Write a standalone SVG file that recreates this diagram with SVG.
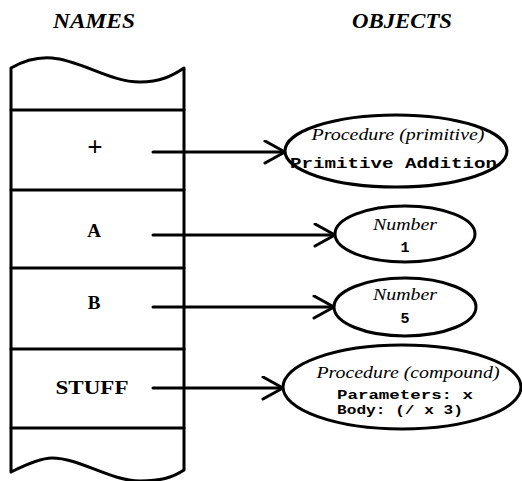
<svg xmlns="http://www.w3.org/2000/svg" width="522" height="481" viewBox="0 0 522 481">
  <style>
    .ln { fill: none; stroke: #000; stroke-width: 3; stroke-linecap: round; stroke-linejoin: round; }
    .hdr { font-family: "Liberation Serif", "DejaVu Serif", serif; font-weight: bold; font-style: italic; font-size: 21px; text-anchor: middle; }
    .name { font-family: "Liberation Serif", "DejaVu Serif", serif; font-weight: bold; font-size: 19px; text-anchor: middle; }
    .kind { font-family: "Liberation Serif", "DejaVu Serif", serif; font-style: italic; font-size: 16px; text-anchor: middle; }
    .val { font-family: "Liberation Mono", "DejaVu Sans Mono", monospace; font-weight: bold; font-size: 15px; }
    .val.sm { font-size: 13px; }
    .obj { fill: #fff; stroke: #000; stroke-width: 3; }
  </style>
  <defs>
    <marker id="arrow" markerUnits="userSpaceOnUse" markerWidth="26" markerHeight="28" refX="22" refY="12" orient="auto">
      <path d="M2,1 L22,12 L2,23" fill="none" stroke="#000" stroke-width="3" stroke-linecap="round" stroke-linejoin="round"/>
    </marker>
  </defs>
  <rect width="522" height="481" fill="#fff"/>

  <!-- column headers -->
  <text class="hdr" x="94" y="28" textLength="82" lengthAdjust="spacingAndGlyphs">NAMES</text>
  <text class="hdr" x="402" y="28" textLength="100" lengthAdjust="spacingAndGlyphs">OBJECTS</text>

  <!-- names table -->
  <g id="names-table">
    <path class="ln" d="M11,68 C25,60 40,57 52,58 C80,60 110,82 140,82 C160,82 172,76 184,68 L184,470 C172,478 160,481 140,481 C110,481 80,458 52,458 C40,458 25,465 11,472 Z"/>
    <line class="ln" x1="11" y1="110" x2="184" y2="110"/>
    <line class="ln" x1="11" y1="190" x2="184" y2="190"/>
    <line class="ln" x1="11" y1="268" x2="184" y2="268"/>
    <line class="ln" x1="11" y1="349" x2="184" y2="349"/>
    <line class="ln" x1="11" y1="428" x2="184" y2="428"/>
  </g>
  <g id="name-plus"><text class="name" x="95" y="156" style="font-size:27px">+</text></g>
  <g id="name-a"><text class="name" x="94" y="237">A</text></g>
  <g id="name-b"><text class="name" x="94" y="309">B</text></g>
  <g id="name-stuff"><text class="name" x="92" y="394" textLength="73" lengthAdjust="spacingAndGlyphs">STUFF</text></g>

  <!-- bindings -->
  <g id="connectors">
    <line class="ln" x1="153" y1="152" x2="285" y2="152" marker-end="url(#arrow)"/>
    <line class="ln" x1="153" y1="235" x2="335" y2="235" marker-end="url(#arrow)"/>
    <line class="ln" x1="153" y1="307" x2="334" y2="307" marker-end="url(#arrow)"/>
    <line class="ln" x1="153" y1="388" x2="283" y2="388" marker-end="url(#arrow)"/>
  </g>

  <!-- objects -->
  <g id="obj-primitive">
    <ellipse class="obj" cx="396" cy="151" rx="111" ry="36"/>
    <text class="kind" x="398" y="140" textLength="173" lengthAdjust="spacingAndGlyphs">Procedure (primitive)</text>
    <text class="val" x="290" y="168" textLength="207" lengthAdjust="spacingAndGlyphs">Primitive Addition</text>
  </g>
  <g id="obj-number-1">
    <ellipse class="obj" cx="405" cy="234" rx="70" ry="28"/>
    <text class="kind" x="405" y="230" textLength="64" lengthAdjust="spacingAndGlyphs">Number</text>
    <text class="val" x="405" y="252" text-anchor="middle">1</text>
  </g>
  <g id="obj-number-5">
    <ellipse class="obj" cx="405" cy="307" rx="71" ry="29"/>
    <text class="kind" x="405" y="300" textLength="64" lengthAdjust="spacingAndGlyphs">Number</text>
    <text class="val" x="405" y="323" text-anchor="middle">5</text>
  </g>
  <g id="obj-compound">
    <ellipse class="obj" cx="402" cy="387" rx="119" ry="42"/>
    <text class="kind" x="408" y="378" textLength="183" lengthAdjust="spacingAndGlyphs">Procedure (compound)</text>
    <text class="val sm" x="337" y="399" textLength="136" lengthAdjust="spacingAndGlyphs">Parameters: x</text>
    <text class="val sm" x="337" y="414" textLength="126" lengthAdjust="spacingAndGlyphs">Body: (/ x 3)</text>
  </g>
</svg>
